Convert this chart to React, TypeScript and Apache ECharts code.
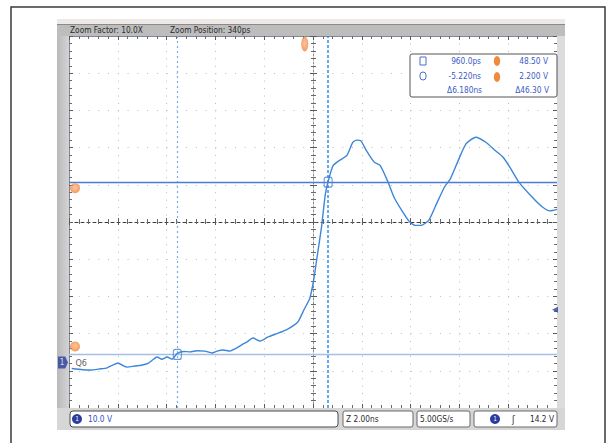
import React, { useEffect, useRef } from "react";
import * as echarts from "echarts";

// ---- waveform (time in ns, volts) ----
const TRACE_T = [
  -9.55, -9.1, -8.8, -8.4, -8.1, -7.85, -7.65, -7.45, -7.28, -6.96, -6.7, -6.42, -6.2, -6.05, -5.85,
  -5.64, -5.44, -5.23, -4.95, -4.7, -4.41, -4.09, -3.8, -3.59, -3.35, -3.06, -2.86, -2.6, -2.36, -2.12,
  -1.83, -1.5, -1.14, -0.73, -0.45, -0.27, -0.03, 0.21, 0.37, 0.53, 0.69, 0.85, 1.01, 1.17, 1.41,
  1.73, 1.97, 2.13, 2.29, 2.53, 2.85, 3.09, 3.41, 3.65, 3.97, 4.29, 4.53, 4.77, 5.09, 5.41,
  5.73, 5.97, 6.29, 6.61, 7.01, 7.41, 7.81, 8.13, 8.45, 8.77, 9.25, 9.73, 10.05, 10.34,
];
const TRACE_V = [
  -1.6, -1.9, -2.0, -1.7, -1.4, -0.6, -0.1, -0.8, -1.2, -0.9, -0.7, -0.2, 0.9, 1.5, 0.9,
  1.5, 0.9, 2.4, 3.0, 2.9, 3.2, 3.1, 2.6, 3.1, 3.4, 3.1, 3.7, 4.7, 5.6, 6.6,
  5.8, 6.9, 7.8, 8.9, 10.0, 11.0, 14.2, 17.3, 22.3, 29.4, 36.5, 45.4, 49.9, 53.0, 54.3,
  55.7, 59.2, 59.8, 59.7, 57.0, 53.9, 53.0, 48.6, 44.6, 41.0, 37.9, 36.9, 36.9, 38.3, 42.8,
  47.2, 49.4, 54.3, 58.8, 60.6, 59.3, 57.0, 55.2, 52.1, 48.6, 45.0, 41.9, 40.8, 41.2,
];

// ---- cursors / markers ----
const CURSOR_T = [-5.22, 0.96]; // ns
const CURSOR_V = [48.5, 2.2]; // V
const TRIGGER_T = 0;
const TRIGGER_LEVEL = 14.2;
const GROUND_V = 0;

// ---- scope settings ----
const ZOOM_POSITION_NS = 0.34;
const NS_PER_DIV = 2;
const V_PER_DIV = 10;
const H_DIVS = 10;
const V_DIVS = 10;
const CENTER_V = 37.8;
const X_MIN = ZOOM_POSITION_NS - (NS_PER_DIV * H_DIVS) / 2;
const X_MAX = ZOOM_POSITION_NS + (NS_PER_DIV * H_DIVS) / 2;
const Y_MIN = CENTER_V - (V_PER_DIV * V_DIVS) / 2;
const Y_MAX = CENTER_V + (V_PER_DIV * V_DIVS) / 2;

const HEADER_LABELS = ["Zoom Factor: 10.0X", "Zoom Position: 340ps"];
const STATUS_LABELS = ["10.0 V", "Z 2.00ns", "5.00GS/s", "14.2 V"];
const GROUND_LABEL = "Q6";

const FONT = "'DejaVu Sans Condensed','Liberation Sans Narrow','Roboto Condensed','Liberation Sans',sans-serif";
const BLUE_TXT = "#3a5cc4";
const NAVY = "#2b3d9e";

const fmtT = (ns: number) =>
  Math.abs(ns) < 1 ? `${(ns * 1000).toFixed(1)}ps` : `${ns.toFixed(3)}ns`;

export default function App() {
  const ref = useRef<HTMLDivElement>(null);
  useEffect(() => {
    if (!ref.current) return;
    const chart = echarts.init(ref.current, undefined, { renderer: "svg" });
    const orange = new echarts.graphic.RadialGradient(0.5, 0.45, 0.6, [
      { offset: 0, color: "#fcb98a" },
      { offset: 1, color: "#f07d30" },
    ]);
    const divAxis = (extra: any) => ({
      type: "value",
      min: -H_DIVS / 2,
      max: H_DIVS / 2,
      interval: 1,
      axisLabel: { show: false },
      splitLine: { show: false },
      axisTick: { show: true, inside: true, length: 4, lineStyle: { color: "#5a5a5a", width: 1 } },
      minorTick: { show: true, splitNumber: 5, length: 3, lineStyle: { color: "#6a6a6a", width: 1 } },
      ...extra,
    });
    const borderLine = { show: true, onZero: false, lineStyle: { color: "#7d8799", width: 1 } };
    const dT = CURSOR_T[1] - CURSOR_T[0];
    const dV = CURSOR_V[0] - CURSOR_V[1];

    const txt = (x: number, y: number, s: string, fill: string, align = "left", size = 9) => ({
      type: "text",
      x,
      y,
      z: 110,
      scaleX: 0.92,
      style: { text: s, fill, font: `${size}px ${FONT}`, textAlign: align, textVerticalAlign: "middle" },
    });

    const option: any = {
      animation: false,
      grid: { left: 69, right: 54, top: 36, bottom: 35 },
      xAxis: [
        { type: "value", min: X_MIN, max: X_MAX, show: false },
        divAxis({
          position: "bottom",
          axisLine: borderLine,
          splitLine: { show: true, lineStyle: { color: "#b4bccb", width: 1, type: [1, 6.44] } },
        }),
        divAxis({ position: "top", axisLine: borderLine }),
        divAxis({
          position: "bottom",
          axisLine: { show: true, onZero: true, onZeroAxisIndex: 3, lineStyle: { color: "#3c3c3c", width: 1, type: [3, 3] } },
        }),
        divAxis({
          position: "bottom",
          axisLine: { show: false, onZero: true, onZeroAxisIndex: 3 },
          axisTick: { show: true, inside: false, length: 3, lineStyle: { color: "#5a5a5a" } },
          minorTick: { show: true, splitNumber: 5, length: 2, lineStyle: { color: "#6a6a6a" } },
        }),
      ],
      yAxis: [
        { type: "value", min: Y_MIN, max: Y_MAX, show: false },
        divAxis({
          min: -V_DIVS / 2,
          max: V_DIVS / 2,
          position: "left",
          axisLine: borderLine,
          splitLine: { show: true, lineStyle: { color: "#b4bccb", width: 1, type: [1, 8.76] } },
        }),
        divAxis({ min: -V_DIVS / 2, max: V_DIVS / 2, position: "right", axisLine: borderLine }),
        divAxis({
          min: -V_DIVS / 2,
          max: V_DIVS / 2,
          position: "left",
          axisLine: { show: true, onZero: true, onZeroAxisIndex: 3, lineStyle: { color: "#8c8c8c", width: 1, type: [2, 2] } },
        }),
        divAxis({
          min: -V_DIVS / 2,
          max: V_DIVS / 2,
          position: "left",
          axisLine: { show: false, onZero: true, onZeroAxisIndex: 3 },
          axisTick: { show: true, inside: false, length: 3, lineStyle: { color: "#5a5a5a" } },
          minorTick: { show: true, splitNumber: 5, length: 2, lineStyle: { color: "#6a6a6a" } },
        }),
      ],
      series: [
        {
          type: "line",
          xAxisIndex: 0,
          yAxisIndex: 0,
          data: TRACE_T.map((t, i) => [t, TRACE_V[i]]),
          showSymbol: false,
          symbol: "none",
          smooth: 0.2,
          z: 5,
          lineStyle: { color: "#3d86d8", width: 1.4 },
          markLine: {
            silent: true,
            symbol: ["none", "none"],
            label: { show: false },
            animation: false,
            data: [
              { xAxis: CURSOR_T[0], lineStyle: { color: "#7aaee8", type: [2, 3], width: 1.2 } },
              { xAxis: CURSOR_T[1], lineStyle: { color: "#2e8ee6", type: [3, 2], width: 1.5 } },
              { yAxis: CURSOR_V[0], lineStyle: { color: "#4a7ed4", type: "solid", width: 1.4 } },
              { yAxis: CURSOR_V[1], lineStyle: { color: "#a6bfe6", type: "solid", width: 1.4 } },
            ],
          },
        },
        {
          type: "scatter",
          xAxisIndex: 0,
          yAxisIndex: 0,
          z: 6,
          symbol: "roundRect",
          symbolSize: [8, 10],
          itemStyle: { color: "rgba(255,255,255,0)", borderColor: "#4a80d0", borderWidth: 1.2 },
          data: [
            [CURSOR_T[1], CURSOR_V[0]],
            [CURSOR_T[0], CURSOR_V[1]],
          ],
        },
        {
          type: "scatter",
          xAxisIndex: 0,
          yAxisIndex: 0,
          z: 7,
          itemStyle: { color: orange },
          data: [
            { value: [X_MIN, CURSOR_V[0]], symbolSize: 10, symbolOffset: [6, 6] },
            { value: [X_MIN, CURSOR_V[1]], symbolSize: 10, symbolOffset: [6, -8] },
            { value: [TRIGGER_T, Y_MAX], symbolSize: [7, 15], symbolOffset: [0, 8] },
          ],
        },
        {
          type: "scatter",
          xAxisIndex: 0,
          yAxisIndex: 0,
          z: 7,
          data: [
            {
              value: [X_MAX, TRIGGER_LEVEL],
              symbol: "triangle",
              symbolRotate: 90,
              symbolSize: 6,
              symbolOffset: [-2, 0],
              itemStyle: { color: NAVY },
            },
            {
              value: [X_MIN, GROUND_V],
              symbol: "path://M0 0 H8 L11 6 L8 12 H0 Z",
              symbolSize: [10, 12],
              symbolOffset: [-6, 0],
              itemStyle: { color: NAVY },
              label: { show: true, formatter: "1", color: "#fff", fontSize: 8, fontFamily: FONT, position: "inside", offset: [-1, 0] },
            },
            {
              value: [X_MIN, GROUND_V],
              symbol: "circle",
              symbolSize: 1,
              itemStyle: { color: "rgba(0,0,0,0)" },
              label: { show: true, formatter: GROUND_LABEL, color: "#333", fontSize: 9, fontFamily: FONT, position: "right", offset: [1, 0] },
            },
          ],
        },
      ],
      graphic: {
        elements: [
          // outer frame
          { type: "rect", shape: { x: 11, y: 7, width: 594, height: 460 }, style: { fill: "none", stroke: "#3a3a3a", lineWidth: 1.5 }, z: 1 },
          // scope bezel around plot
          { type: "rect", shape: { x: 57, y: 19, width: 508, height: 5 }, style: { fill: "#eee8e6" }, z: 1 },
          { type: "rect", shape: { x: 57, y: 24, width: 508, height: 12 }, style: { fill: "#bdbdbd" }, z: 1 },
          { type: "rect", shape: { x: 57, y: 24, width: 508, height: 1 }, style: { fill: "#8a8a8a" }, z: 1 },
          {
            type: "rect",
            shape: { x: 57, y: 36, width: 12, height: 372 },
            style: {
              fill: new echarts.graphic.LinearGradient(0, 0, 1, 0, [
                { offset: 0, color: "#b9b9b9" },
                { offset: 1, color: "#d4d4d4" },
              ]),
            },
            z: 1,
          },
          { type: "rect", shape: { x: 557, y: 36, width: 8, height: 372 }, style: { fill: "#dcdcdc" }, z: 1 },
          { type: "rect", shape: { x: 57, y: 408, width: 508, height: 22 }, style: { fill: "#d6d6d6" }, z: 1 },
          txt(70, 30, HEADER_LABELS[0], "#2a2a2a"),
          txt(170, 30, HEADER_LABELS[1], "#2a2a2a"),
          // status boxes
          { type: "rect", shape: { x: 70, y: 411, width: 268, height: 16, r: 3 }, style: { fill: "#fff", stroke: "#4a4a4a", lineWidth: 1 }, z: 100 },
          { type: "rect", shape: { x: 343, y: 411, width: 70, height: 16, r: 2 }, style: { fill: "#fff", stroke: "#6a6a6a", lineWidth: 1 }, z: 100 },
          { type: "rect", shape: { x: 417, y: 411, width: 53, height: 16, r: 2 }, style: { fill: "#fff", stroke: "#6a6a6a", lineWidth: 1 }, z: 100 },
          { type: "rect", shape: { x: 474, y: 411, width: 83, height: 16, r: 2 }, style: { fill: "#fff", stroke: "#6a6a6a", lineWidth: 1 }, z: 100 },
          { type: "circle", shape: { cx: 77, cy: 419, r: 5 }, style: { fill: NAVY }, z: 105 },
          txt(77, 419, "1", "#fff", "center", 7),
          txt(88, 419, STATUS_LABELS[0], "#2f4fbf"),
          txt(346, 419, STATUS_LABELS[1], "#2a2a2a"),
          txt(420, 419, STATUS_LABELS[2], "#2a2a2a"),
          { type: "circle", shape: { cx: 495, cy: 419, r: 5 }, style: { fill: NAVY }, z: 105 },
          txt(495, 419, "1", "#fff", "center", 7),
          txt(512, 419, "ʃ", "#2a2a2a", "left", 10),
          txt(554, 419, STATUS_LABELS[3], "#2a2a2a", "right"),
          // cursor readout box
          { type: "rect", shape: { x: 410, y: 54, width: 147, height: 43, r: 2 }, style: { fill: "#fff", stroke: "#555", lineWidth: 1 }, z: 100 },
          { type: "rect", shape: { x: 420, y: 57, width: 6, height: 8 }, style: { fill: "none", stroke: "#4a6fd0", lineWidth: 1 }, z: 105 },
          { type: "rect", shape: { x: 420, y: 72, width: 6, height: 8, r: 3 }, style: { fill: "none", stroke: "#4a6fd0", lineWidth: 1 }, z: 105 },
          { type: "ellipse", shape: { cx: 497, cy: 61, rx: 3.2, ry: 5 }, style: { fill: "#f08a3c" }, z: 105 },
          { type: "ellipse", shape: { cx: 497, cy: 77, rx: 3.2, ry: 5 }, style: { fill: "#f08a3c" }, z: 105 },
          txt(481, 61, fmtT(CURSOR_T[1]), BLUE_TXT, "right"),
          txt(481, 76, fmtT(CURSOR_T[0]), BLUE_TXT, "right"),
          txt(482, 90, `Δ${dT.toFixed(3)}ns`, BLUE_TXT, "right"),
          txt(548, 61, `${CURSOR_V[0].toFixed(2)} V`, BLUE_TXT, "right"),
          txt(548, 76, `${CURSOR_V[1].toFixed(3)} V`, BLUE_TXT, "right"),
          txt(549, 90, `Δ${dV.toFixed(2)} V`, BLUE_TXT, "right"),
        ],
      },
    };
    chart.setOption(option);
    return () => chart.dispose();
  }, []);
  return (
    <div
      ref={ref}
      style={{ position: "fixed", left: 0, top: 0, width: 611, height: 443, background: "#fff" }}
    />
  );
}
